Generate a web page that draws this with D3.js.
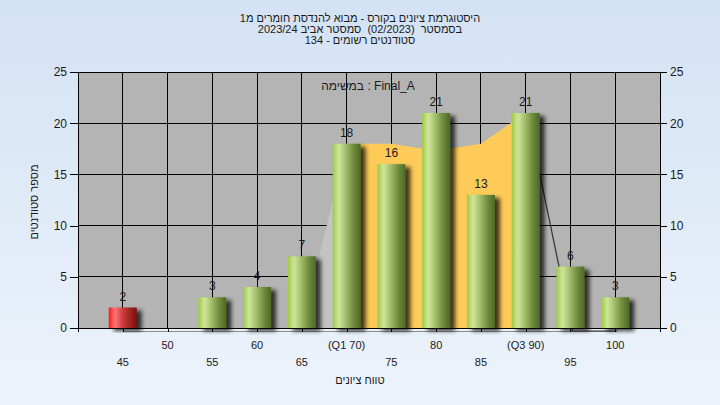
<!DOCTYPE html>
<html><head><meta charset="utf-8">
<script src="https://cdn.jsdelivr.net/npm/d3@7/dist/d3.min.js"></script>
<style>
html,body{margin:0;padding:0;}
body{width:720px;height:405px;overflow:hidden;}
text{font-family:"Liberation Sans","DejaVu Sans",Arial,sans-serif;fill:#1a1a1a;white-space:pre;}
</style></head>
<body>
<svg id="c" width="720" height="405"></svg>
<script>
// ---- data ----
const titleLines = ["היסטוגרמת ציונים בקורס - מבוא להנדסת חומרים מ1",
                    "בסמסטר  (02/2023)  סמסטר אביב 2023/24",
                    "סטודנטים רשומים - 134"];
const legendText = "במשימה : Final_A";
const xTitle = "טווח ציונים";
const yTitle = "מספר סטודנטים";
const categories = [45,50,55,60,65,70,75,80,85,90,95,100];
const tickLabels = ["45","50","55","60","65","(Q1 70)","75","80","85","(Q3 90)","95","100"];
const counts = [2,0,3,4,7,18,16,21,13,21,6,3];
const trend = [0,0,0,0,0,18,18,17.3,18,21,0,0];
const q1 = 70, q3 = 90;
const passMark = 55;
const yTicks = [0,5,10,15,20,25];

// ---- layout ----
const svg = d3.select("#c");
const W = 720, H = 405;
const L = 78, R = 660, T = 72, B = 328;
const x = d3.scaleLinear().domain([40,105]).range([L,R]);
const y = d3.scaleLinear().domain([0,25]).range([B,T]);
const barW = 28;

const defs = svg.append("defs");
const bg = defs.append("linearGradient").attr("id","bg").attr("x1",0).attr("y1",0).attr("x2",0).attr("y2",1);
bg.append("stop").attr("offset","0%").attr("stop-color","#d3e2f4");
bg.append("stop").attr("offset","100%").attr("stop-color","#edf3fb");
const gG = defs.append("linearGradient").attr("id","gGreen");
[["0%","#9ec944"],["22%","#cfe69b"],["45%","#a6c26f"],["75%","#6e8b3d"],["100%","#4d6825"]]
  .forEach(s=>gG.append("stop").attr("offset",s[0]).attr("stop-color",s[1]));
const gR = defs.append("linearGradient").attr("id","gRed");
[["0%","#ff1414"],["22%","#ff7878"],["50%","#cc3a3a"],["100%","#761212"]]
  .forEach(s=>gR.append("stop").attr("offset",s[0]).attr("stop-color",s[1]));
const f = defs.append("filter").attr("id","sh").attr("x","-20%").attr("y","-20%").attr("width","160%").attr("height","140%");
f.append("feDropShadow").attr("dx",5).attr("dy",3).attr("stdDeviation",2).attr("flood-color","#000").attr("flood-opacity",0.75);
defs.append("clipPath").attr("id","cLeft").append("rect").attr("x",L).attr("y",T).attr("width",x(q1)-L).attr("height",B-T);
defs.append("clipPath").attr("id","cMid").append("rect").attr("x",x(q1)).attr("y",T).attr("width",x(q3)-x(q1)).attr("height",B-T);
defs.append("clipPath").attr("id","cRight").append("rect").attr("x",x(q3)).attr("y",T).attr("width",R-x(q3)).attr("height",B-T+6);

svg.append("rect").attr("width",W).attr("height",H).attr("fill","url(#bg)");
svg.append("rect").attr("x",L).attr("y",T).attr("width",R-L).attr("height",B-T).attr("fill","#b4b4b4");

// grid
const grid = svg.append("g").attr("stroke","#000").attr("stroke-width",1).attr("shape-rendering","crispEdges");
grid.selectAll(".v").data(categories).join("line")
  .attr("x1",d=>x(d)).attr("x2",d=>x(d)).attr("y1",T).attr("y2",B);
grid.selectAll(".h").data(yTicks.filter(d=>d>0)).join("line")
  .attr("x1",L).attr("x2",R).attr("y1",d=>y(d)).attr("y2",d=>y(d));

// base line below axis
svg.append("line").attr("x1",x(categories[0])).attr("x2",x(categories[categories.length-1]))
  .attr("y1",B+3.5).attr("y2",B+3.5).attr("stroke","#8c8c8c").attr("stroke-width",1);

// trend area
const pts = categories.map((c,i)=>[c,trend[i]]);
const area = d3.area().x(d=>x(d[0])).y0(y(0)).y1(d=>y(d[1]));
const line = d3.line().x(d=>x(d[0])).y(d=>y(d[1]));
svg.append("path").attr("d",area(pts)).attr("fill","#c3c3c3").attr("clip-path","url(#cLeft)");
svg.append("path").attr("d",area(pts)).attr("fill","#fecb58").attr("clip-path","url(#cMid)");
svg.append("g").attr("clip-path","url(#cRight)")
  .append("path").attr("transform","translate(2,3)").attr("d",line(pts))
  .attr("fill","none").attr("stroke","#333").attr("stroke-width",1.2);

// frame
svg.append("rect").attr("x",L).attr("y",T).attr("width",R-L).attr("height",B-T)
  .attr("fill","none").attr("stroke","#000").attr("shape-rendering","crispEdges");

// bars
const bars = categories.map((c,i)=>({c, v:counts[i]})).filter(d=>d.v>0);
svg.append("g").selectAll("rect").data(bars).join("rect")
  .attr("x",d=>x(d.c)-barW/2).attr("width",barW)
  .attr("y",d=>y(d.v)).attr("height",d=>y(0)-y(d.v))
  .attr("fill",d=>d.c<passMark?"url(#gRed)":"url(#gGreen)")
  .attr("filter","url(#sh)");
svg.append("g").selectAll("text").data(bars).join("text")
  .attr("x",d=>x(d.c)).attr("y",d=>y(d.v)-7).attr("text-anchor","middle")
  .attr("font-size",12).text(d=>d.v);

// axes
const yl = d3.axisLeft(y).tickValues(yTicks).tickSize(8).tickPadding(3);
const yr = d3.axisRight(y).tickValues(yTicks).tickSize(7).tickPadding(3);
const gl = svg.append("g").attr("transform",`translate(${L},0)`).call(yl);
const gr = svg.append("g").attr("transform",`translate(${R},0)`).call(yr);
[gl,gr].forEach(g=>{
  g.select(".domain").remove();
  g.selectAll("line").attr("stroke","#000").attr("shape-rendering","crispEdges");
  g.selectAll("text").attr("font-size",12).attr("font-family",null).attr("fill","#1a1a1a");
  g.attr("font-family",null);
});
const xa = d3.axisBottom(x).tickValues([40].concat(categories,[105])).tickSize(4).tickFormat("");
const gx = svg.append("g").attr("transform",`translate(0,${B})`).call(xa);
gx.select(".domain").remove();
gx.selectAll("line").attr("stroke","#000").attr("shape-rendering","crispEdges");

svg.append("g").selectAll("text").data(categories).join("text")
  .attr("x",d=>x(d)).attr("y",(d,i)=> i%2===1 ? 349 : 366)
  .attr("text-anchor","middle").attr("font-size",11)
  .text((d,i)=>tickLabels[i]);

// titles
svg.append("g").selectAll("text").data(titleLines).join("text")
  .attr("x",360).attr("y",(d,i)=>22+i*11).attr("text-anchor","middle")
  .attr("font-size",11).attr("direction","rtl").attr("unicode-bidi","embed").text(d=>d);
svg.append("text").attr("x",360).attr("y",384).attr("text-anchor","middle").attr("font-size",11).text(xTitle);
svg.append("text").attr("transform","translate(38,202) rotate(-90)").attr("text-anchor","middle")
  .attr("font-size",11).text(yTitle);
svg.append("text").attr("x",368).attr("y",90).attr("text-anchor","middle").attr("font-size",12)
  .attr("fill","#2a1a2a").text(legendText);
</script>
</body></html>
